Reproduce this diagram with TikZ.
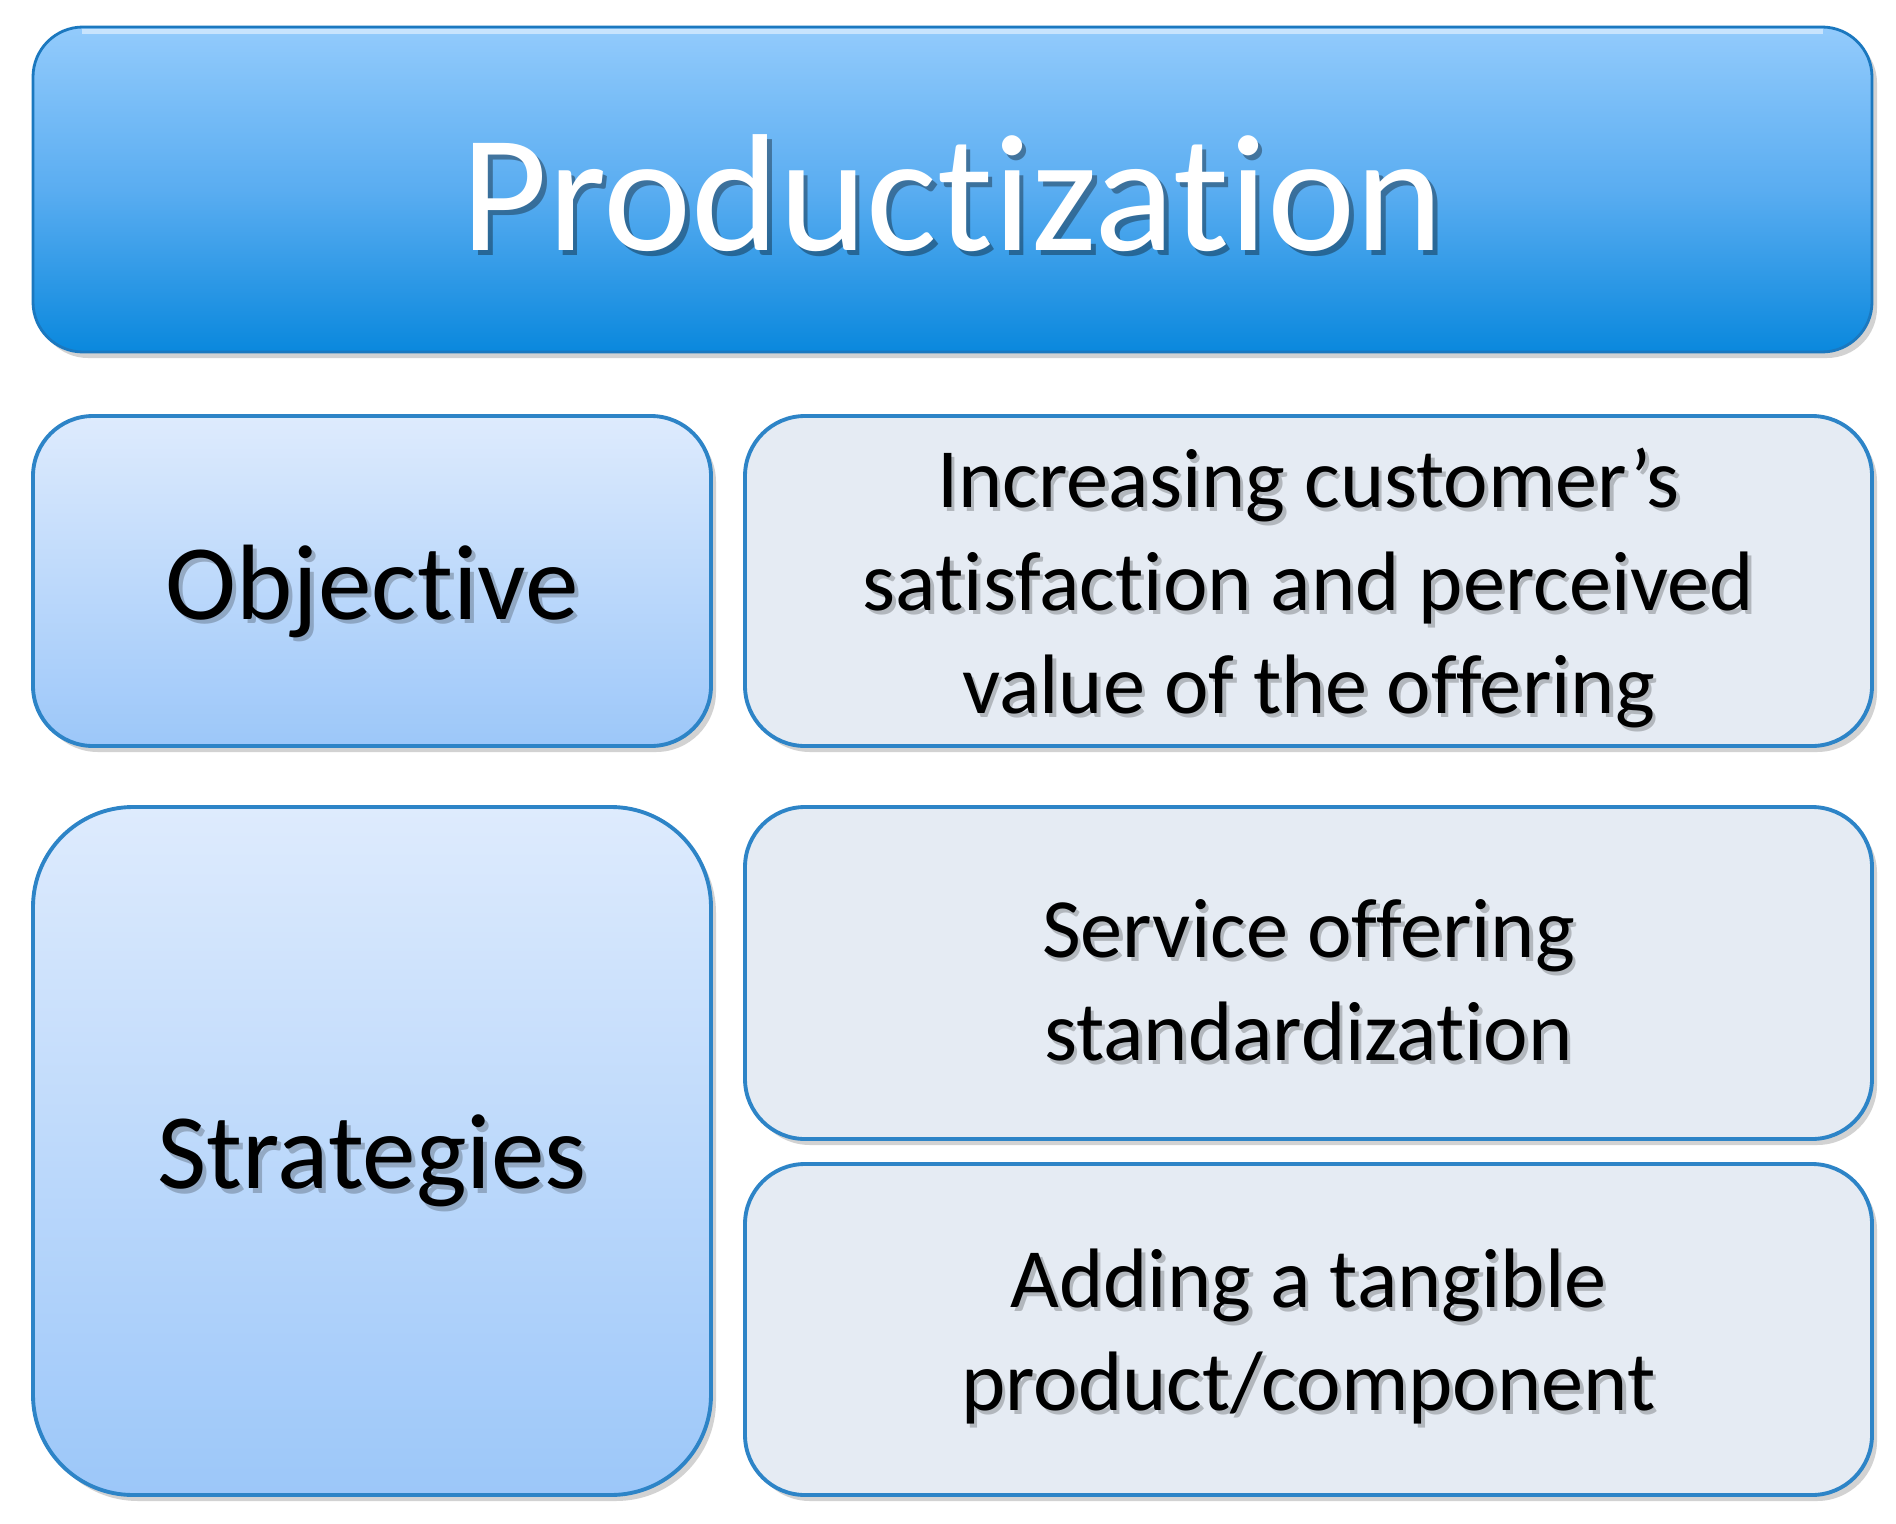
\documentclass[tikz,border=0pt]{standalone}
\usepackage{fontspec}
\setmainfont[Ligatures={NoCommon}]{Carlito}
\usetikzlibrary{shadows}
\usetikzlibrary{calc}

\definecolor{titletop}{HTML}{93CBFC}
\definecolor{titlemid}{HTML}{5AADF1}
\definecolor{titlebot}{HTML}{0A88DD}
\definecolor{titleline}{HTML}{1B78BF}
\definecolor{headtop}{HTML}{DEEBFD}
\definecolor{headbot}{HTML}{9CC7F9}
\definecolor{boxline}{HTML}{2D84C7}
\definecolor{itemfill}{HTML}{E5EBF3}

\tikzset{
  shade/.style={drop shadow={shadow xshift=0.05cm, shadow yshift=-0.06cm, opacity=0.25, fill=black!70}},
  titlebox/.style={draw=titleline, line width=0.8pt, rounded corners=0.5cm, top color=titletop, bottom color=titlebot, middle color=titlemid, shade},
  headbox/.style={draw=boxline, line width=1.1pt, rounded corners=0.6cm, top color=headtop, bottom color=headbot, shade},
  itembox/.style={draw=boxline, line width=1.1pt, rounded corners=0.6cm, fill=itemfill, shade},
  bigtext/.style={font=\fontsize{47.5}{57}\selectfont, text=white, yshift=-0.04cm},
  headtext/.style={font=\fontsize{30.5}{36}\selectfont, yshift=-0.1cm},
  itemtext/.style={font=\fontsize{24}{29.2}\selectfont, align=center, yshift=-0.07cm},
  blur/.style={text=black, opacity=0.22}
}

\begin{document}
\begin{tikzpicture}
\useasboundingbox[fill=white] (0,0) rectangle (18.96,-15.24);
% the boxes
\node[titlebox, minimum width=18.39cm, minimum height=3.25cm] (title) at (9.525,-1.895) {};
\node[headbox, minimum width=6.78cm, minimum height=3.30cm] (obj) at (3.72,-5.81) {};
\node[itembox, minimum width=11.27cm, minimum height=3.30cm] (objdesc) at (13.085,-5.81) {};
\node[headbox, rounded corners=1.0cm, minimum width=6.78cm, minimum height=6.88cm] (strat) at (3.72,-11.51) {};
\node[itembox, minimum width=11.27cm, minimum height=3.32cm] (serv) at (13.085,-9.73) {};
\node[itembox, minimum width=11.27cm, minimum height=3.31cm] (tang) at (13.085,-13.295) {};
% top gloss of the title
\draw[white, opacity=.5, line width=1.2pt] ([xshift=0.5cm,yshift=-0.06cm]title.north west) -- ([xshift=-0.5cm,yshift=-0.06cm]title.north east);
% the texts
%     shadows
\node[bigtext, text=black, opacity=.35] at ([shift={(0.045,-0.05)}]title.center) {Productization};
\node[headtext, blur] at ([shift={(0.04,-0.045)}]obj.center) {Objective};
\node[headtext, blur] at ([shift={(0.04,-0.045)}]strat.center) {Strategies};
\node[itemtext, blur] at ([shift={(0.035,-0.04)}]objdesc.center) {Increasing customer’s\\satisfaction and perceived\\value of the offering};
\node[itemtext, blur] at ([shift={(0.035,-0.04)}]serv.center) {Service offering\\standardization};
\node[itemtext, blur] at ([shift={(0.035,-0.04)}]tang.center) {Adding a tangible\\product/component};
%     labels
\node[bigtext] (titlelbl) at (title.center) {Productization};
\node[headtext] (objlbl) at (obj.center) {Objective};
\node[headtext] (stratlbl) at (strat.center) {Strategies};
\node[itemtext] (objdesclbl) at (objdesc.center) {Increasing customer’s\\satisfaction and perceived\\value of the offering};
\node[itemtext] (servlbl) at (serv.center) {Service offering\\standardization};
\node[itemtext] (tanglbl) at (tang.center) {Adding a tangible\\product/component};
\end{tikzpicture}
\end{document}
